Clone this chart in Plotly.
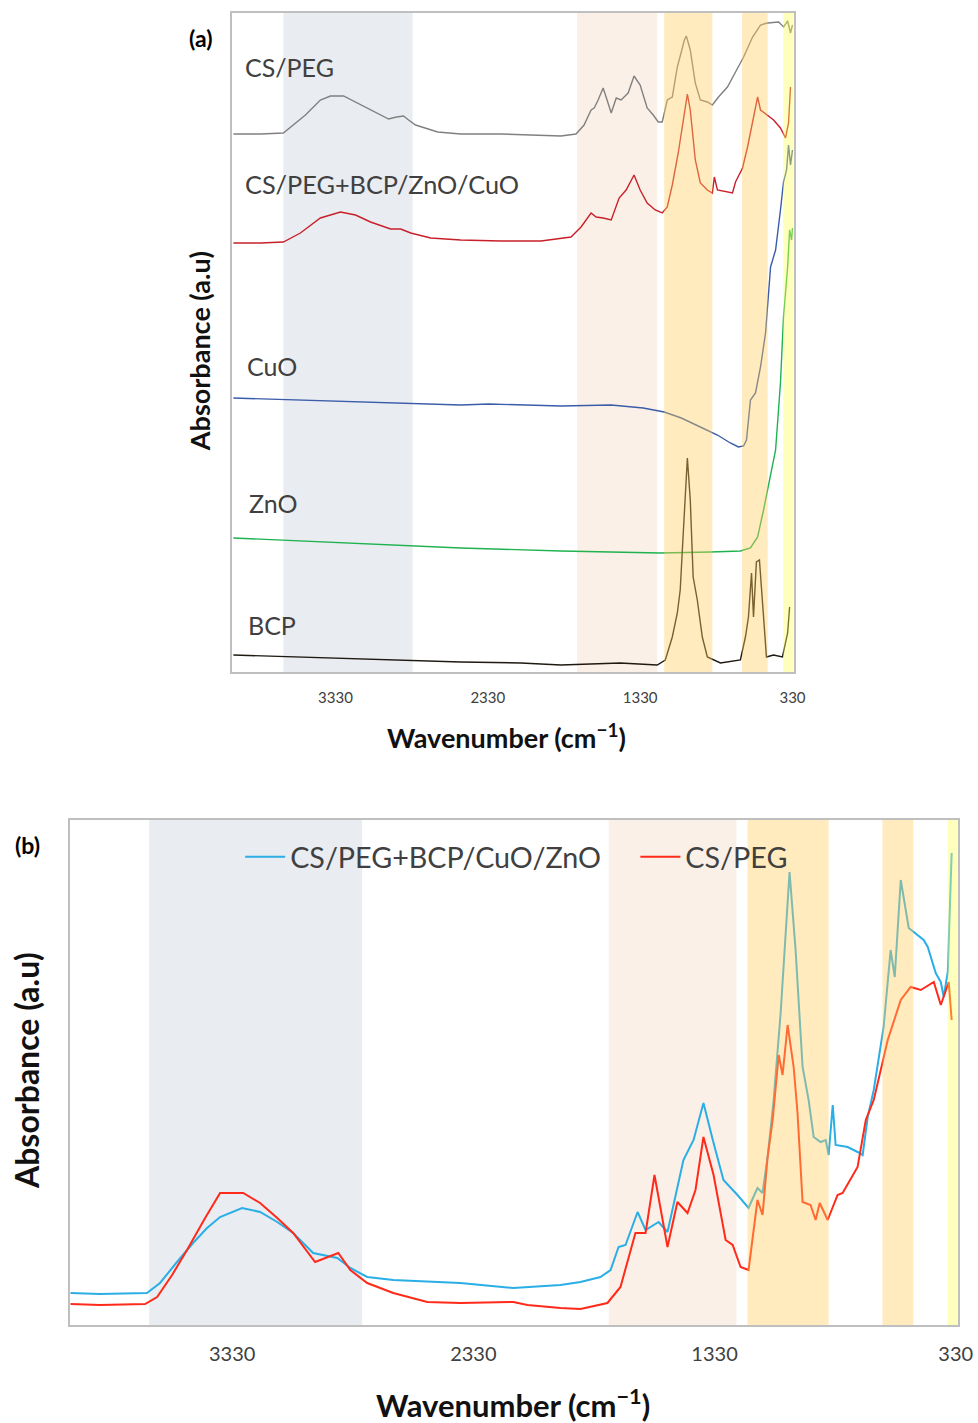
import plotly.graph_objects as go

# ---------------- Panel (a) data (wavenumber cm-1, absorbance a.u. offsets) -------------
cspeg_a_wn = [4000, 3820, 3672, 3527, 3429, 3363, 3277, 3133, 2981, 2929, 2883, 2850, 2804, 2659,
              2508, 2244, 1981, 1850, 1751, 1698, 1652, 1632, 1606, 1573, 1547, 1520, 1487, 1455,
              1409, 1370, 1330, 1284, 1244, 1211, 1185, 1152, 1119, 1086, 1053, 1040, 1027, 1001,
              968, 935, 889, 856, 816, 757, 704, 651, 592, 540, 494, 421, 388, 362, 343, 330]
cspeg_a_ab = [538, 538, 539, 557, 572, 576, 576, 565, 553, 555, 556, 552, 547, 540,
              538, 538, 537, 536, 538, 547, 562, 564, 572, 584, 572, 559, 574, 572,
              579, 596, 587, 564, 557, 550, 550, 572, 575, 605, 624, 632, 636, 622,
              589, 572, 570, 567, 575, 585, 600, 615, 635, 647, 649, 650, 645, 651, 639, 647]

comp_a_wn = [4000, 3820, 3672, 3560, 3429, 3297, 3198, 3100, 2968, 2902, 2836, 2705, 2508, 2244,
             1981, 1850, 1784, 1718, 1652, 1619, 1573, 1520, 1468, 1422, 1370, 1330, 1284, 1231,
             1185, 1152, 1119, 1080, 1047, 1020, 1001, 968, 935, 889, 856, 843, 823, 783, 724,
             704, 658, 625, 592, 559, 540, 494, 454, 409, 376, 356, 343]
comp_a_ab = [429, 429, 430, 439, 454, 460, 457, 450, 443, 443, 439, 434, 432, 431,
             431, 434, 435, 445, 459, 455, 454, 452, 474, 482, 497, 482, 469, 462,
             459, 465, 487, 519, 549, 578, 562, 512, 489, 482, 479, 495, 482, 481, 479,
             490, 504, 525, 552, 575, 562, 557, 552, 544, 534, 549, 585]

cuo_wn = [4000, 3560, 3034, 2508, 2323, 1850, 1520, 1310, 1172, 1060, 935, 823, 738, 685, 651,
          632, 606, 573, 540, 507, 474, 441, 409, 389, 369, 356, 343, 330]
cuo_ab = [274, 272, 270, 267, 268, 266, 267, 264, 260, 254, 245, 237, 229, 225, 226,
          232, 272, 279, 305, 339, 405, 422, 462, 490, 502, 527, 507, 522]

zno_wn = [4000, 3560, 3034, 2508, 1850, 1198, 869, 672, 606, 559, 520, 474, 441, 409, 389, 362,
          349, 336, 330]
zno_ab = [134, 131, 127, 124, 121, 119, 120, 121, 124, 135, 162, 195, 222, 289, 355, 405,
          442, 432, 444]

bcp_wn = [4000, 3560, 3034, 2508, 2112, 1850, 1462, 1218, 1165, 1119, 1086, 1067, 1047, 1020,
          1001, 982, 955, 922, 889, 803, 672, 639, 619, 599, 586, 567, 547, 527, 501, 455, 396,
          362, 349]
bcp_ab = [17, 15, 12, 10, 9, 7, 9, 7, 12, 35, 59, 82, 139, 214,
          172, 95, 72, 35, 15, 9, 12, 35, 55, 99, 55, 110, 112, 72, 15, 17, 15,
          39, 65]

# ---------------- Panel (b) data -------------
comp_b_wn = [4000, 3878, 3683, 3629, 3562, 3492, 3434, 3380, 3289, 3214, 3143, 3077, 2994, 2894,
             2840, 2770, 2662, 2384, 2164, 1969, 1886, 1803, 1761, 1728, 1699, 1649, 1616, 1562,
             1525, 1492, 1459, 1417, 1376, 1334, 1293, 1235, 1189, 1152, 1131, 1110, 1085, 1056,
             1019, 994, 965, 940, 919, 890, 869, 857, 840, 828, 778, 737, 716, 695, 670, 629,
             600, 583, 558, 525, 504, 463, 446, 413, 392, 380, 363, 351, 347]
comp_b_ab = [32, 31, 32, 42, 62, 82, 97, 108, 117, 113, 103, 92, 72, 67,
             57, 48, 45, 42, 37, 40, 43, 48, 55, 78, 80, 113, 95, 103,
             93, 130, 165, 185, 222, 182, 145, 130, 117, 137, 132, 168, 225, 312,
             453, 375, 258, 225, 188, 183, 185, 170, 220, 180, 178, 173, 170, 208, 235, 298,
             375, 348, 445, 397, 393, 385, 378, 352, 343, 328, 353, 445, 472]

cspeg_b_wn = [4000, 3878, 3691, 3641, 3579, 3517, 3442, 3380, 3284, 3214, 3143, 3077, 2986, 2936,
              2890, 2840, 2770, 2662, 2521, 2384, 2164, 2106, 1969, 1886, 1774, 1720, 1658, 1616,
              1579, 1525, 1484, 1442, 1409, 1376, 1334, 1284, 1255, 1222, 1189, 1152, 1131, 1110,
              1089, 1064, 1048, 1027, 1002, 986, 965, 932, 911, 894, 861, 820, 799, 737, 703, 670,
              612, 558, 517, 475, 421, 392, 380, 359, 347]
cspeg_b_ab = [21, 20, 21, 28, 50, 75, 107, 132, 132, 122, 107, 92, 63, 68,
              72, 55, 42, 32, 23, 22, 23, 20, 17, 16, 22, 38, 92, 92,
              150, 78, 123, 112, 135, 188, 150, 85, 80, 58, 55, 125, 110, 168,
              205, 270, 250, 300, 258, 212, 123, 120, 105, 122, 105, 130, 132, 158, 205, 225,
              285, 325, 338, 335, 343, 320, 328, 343, 305]

# shaded spectral regions (start, end in cm-1)
a_band_start = [3672, 1744, 1172, 661, 391]
a_band_end = [2823, 1218, 856, 493, 323]
b_band_start = [3674, 1769, 1193, 634, 364]
b_band_end = [2791, 1239, 857, 506, 322]
band_kind = ["grey", "pink", "orange", "orange", "yellow"]

tick_vals = [3330, 2330, 1330, 330]
tick_text = ["3330", "2330", "1330", "330"]

FONT = "Lato, 'Open Sans', sans-serif"
TXT = "#404040"

W, H = 978, 1423
SX = 1.0163  # horizontal compensation for the rendered page width


def px(x):
    return min(1.0, x * SX / W)


def py(y):
    return 1 - y / H


band_style = {
    "grey": dict(fillcolor="#e9ecf1", layer="below"),
    "pink": dict(fillcolor="#fbf0e8", layer="below"),
    "orange": dict(fillcolor="rgba(255,204,90,0.40)", layer="above"),
    "yellow": dict(fillcolor="rgba(255,255,90,0.40)", layer="above"),
}

fig = go.Figure()

# panel (a) traces
for wn, ab, col, name in [
    (cspeg_a_wn, cspeg_a_ab, "#808080", "CS/PEG"),
    (comp_a_wn, comp_a_ab, "#c8202a", "CS/PEG+BCP/ZnO/CuO"),
    (cuo_wn, cuo_ab, "#3a5ca9", "CuO"),
    (zno_wn, zno_ab, "#1fb24f", "ZnO"),
    (bcp_wn, bcp_ab, "#1e1a12", "BCP"),
]:
    fig.add_trace(go.Scatter(x=wn, y=ab, mode="lines", name=name, showlegend=False,
                             line=dict(color=col, width=1.4), xaxis="x", yaxis="y"))

# panel (b) traces
fig.add_trace(go.Scatter(x=comp_b_wn, y=comp_b_ab, mode="lines",
                         name="CS/PEG+BCP/CuO/ZnO\u00a0\u00a0\u00a0\u00a0",
                         line=dict(color="#2aaee6", width=2), xaxis="x2", yaxis="y2"))
fig.add_trace(go.Scatter(x=cspeg_b_wn, y=cspeg_b_ab, mode="lines", name="CS/PEG",
                         line=dict(color="#ff2a1a", width=2), xaxis="x2", yaxis="y2"))

shapes = []
for s, e, k in zip(a_band_start, a_band_end, band_kind):
    st = band_style[k]
    shapes.append(dict(type="rect", xref="x", yref="y domain", x0=s, x1=e, y0=0, y1=1,
                       fillcolor=st["fillcolor"], layer=st["layer"], line=dict(width=0)))
for s, e, k in zip(b_band_start, b_band_end, band_kind):
    st = band_style[k]
    shapes.append(dict(type="rect", xref="x2", yref="y2 domain", x0=s, x1=e, y0=0, y1=1,
                       fillcolor=st["fillcolor"], layer=st["layer"], line=dict(width=0)))

axis_common = dict(showgrid=False, zeroline=False, showline=True, mirror=True,
                   linecolor="#bfbfbf", linewidth=1.5, ticks="")

annotations = []


def ann(text, x, y, size, bold=False, xanchor="left", yanchor="middle", angle=0, color=TXT):
    annotations.append(dict(text=("<b>%s</b>" % text) if bold else text, x=x, y=y,
                            xref="paper", yref="paper", xanchor=xanchor, yanchor=yanchor,
                            showarrow=False, textangle=angle,
                            font=dict(family=FONT, size=size, color=color)))


ann("(a)", px(200), py(38), 23, bold=True, xanchor="center", color="#000")
ann("(b)", px(27), py(845), 23, bold=True, xanchor="center", color="#000")
ann("CS/PEG", px(243), py(67), 25)
ann("CS/PEG+BCP/ZnO/CuO", px(243), py(184), 25.3)
ann("CuO", px(245), py(366), 25)
ann("ZnO", px(247), py(503), 25)
ann("BCP", px(246), py(625), 25)
ann("Absorbance (a.u)", px(199), py(351), 27, bold=True, xanchor="center", angle=-90, color="#111")
ann("Absorbance (a.u)", px(26), py(1071), 32, bold=True, xanchor="center", angle=-90, color="#111")
ann("Wavenumber (cm<sup>−1</sup>)", px(506), py(736), 27, bold=True, xanchor="center", color="#111")
ann("Wavenumber (cm<sup>−1</sup>)", px(513), -3 / H, 31, bold=True, xanchor="center",
    yanchor="bottom", color="#111")

fig.update_layout(
    width=W, height=H, autosize=False, margin=dict(l=0, r=0, t=0, b=0),
    paper_bgcolor="white", plot_bgcolor="white",
    font=dict(family=FONT, color=TXT),
    xaxis=dict(domain=[px(232), px(793)], anchor="y", range=[4008, 323],
               tickvals=tick_vals, ticktext=tick_text, tickfont=dict(size=15, color=TXT),
               ticklabelstandoff=11, **axis_common),
    yaxis=dict(domain=[py(672), py(13)], anchor="x", range=[0, 659],
               showticklabels=False, **axis_common),
    xaxis2=dict(domain=[px(70), px(957)], anchor="y2", range=[4002, 322],
                tickvals=tick_vals, ticktext=tick_text, tickfont=dict(size=20, color=TXT),
                ticklabelstandoff=10, **axis_common),
    yaxis2=dict(domain=[py(1325), py(820)], anchor="x2", range=[0, 505],
                showticklabels=False, **axis_common),
    shapes=shapes, annotations=annotations,
    showlegend=True,
    legend=dict(orientation="h", x=px(240), y=py(857), xanchor="left", yanchor="middle",
                font=dict(family=FONT, size=28.7, color=TXT), bgcolor="rgba(0,0,0,0)",
                itemwidth=40),
)

post = """
document.documentElement.style.overflow='hidden';
document.body.style.margin='0';
document.body.style.overflow='hidden';
"""

fig.write_html("out.html", config={"responsive": False}, post_script=post)
